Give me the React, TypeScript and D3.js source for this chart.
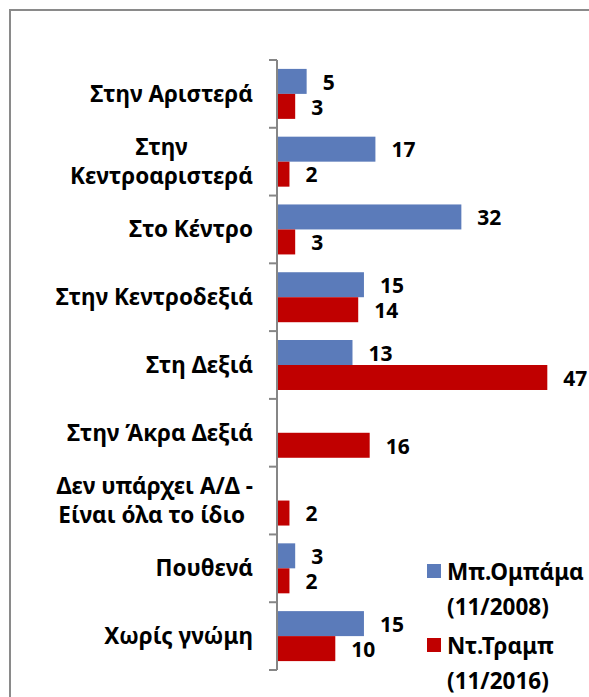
import React, { useEffect, useRef } from "react";
import * as d3 from "d3";

const categories: string[][] = [
  ["Στην Αριστερά"],
  ["Στην", "Κεντροαριστερά"],
  ["Στο Κέντρο"],
  ["Στην Κεντροδεξιά"],
  ["Στη Δεξιά"],
  ["Στην Άκρα Δεξιά"],
  ["Δεν υπάρχει Α/Δ -", "Είναι όλα το ίδιο "],
  ["Πουθενά"],
  ["Χωρίς γνώμη"],
];
const obamaValues: (number | null)[] = [5, 17, 32, 15, 13, null, null, 3, 15];
const trumpValues: (number | null)[] = [3, 2, 3, 14, 47, 16, 2, 2, 10];
const seriesNames = ["Μπ.Ομπάμα (11/2008)", "Ντ.Τραμπ (11/2016)"];
const legendLines: string[][] = [
  ["Μπ.Ομπάμα", "(11/2008)"],
  ["Ντ.Τραμπ", "(11/2016)"],
];
const colors = ["#5B7BBA", "#C00000"];

const W = 589;
const H = 697;
const FONT = "'Noto Sans', sans-serif";
const FS = 22.5;
const FS_VAL = 21;

export default function App() {
  const ref = useRef<SVGSVGElement | null>(null);

  useEffect(() => {
    const svg = d3.select(ref.current);
    svg.selectAll("*").remove();

    // frame
    svg
      .append("rect")
      .attr("x", 10)
      .attr("y", 10)
      .attr("width", W + 10)
      .attr("height", H + 10)
      .attr("fill", "none")
      .attr("stroke", "#8a8a8a")
      .attr("stroke-width", 2);

    const keys = categories.map((_, i) => String(i));
    const y = d3.scaleBand<string>().domain(keys).range([60, 670]).padding(0);
    const inner = d3
      .scaleBand<string>()
      .domain(["0", "1"])
      .range([0, y.bandwidth()])
      .paddingInner(0)
      .paddingOuter(0.356);
    const x = d3.scaleLinear().domain([0, 50]).range([278, 278 + 50 * 5.73]);

    const series = [obamaValues, trumpValues];

    // bars
    series.forEach((vals, s) => {
      const g = svg.append("g");
      vals.forEach((v, i) => {
        if (v == null) return;
        const y0 = (y(String(i)) as number) + (inner(String(s)) as number);
        g.append("rect")
          .attr("x", x(0))
          .attr("y", y0)
          .attr("width", x(v) - x(0))
          .attr("height", inner.bandwidth())
          .attr("fill", colors[s]);
      });
    });

    // value labels
    series.forEach((vals, s) => {
      vals.forEach((v, i) => {
        if (v == null) return;
        const cy = (y(String(i)) as number) + (inner(String(s)) as number) + inner.bandwidth() / 2;
        const t = svg
          .append("text")
          .attr("x", x(v) + 16)
          .attr("y", cy + 8.3)
          .attr("font-family", FONT)
          .attr("font-weight", "bold")
          .attr("font-size", FS_VAL)
          .attr("fill", "#000")
          .text(String(v));
        const node = t.node() as SVGTextElement;
        const w = node.getComputedTextLength();
        if (x(v) + 16 + w > W - 1) t.attr("x", W - 1 - w);
      });
    });

    // axis
    const axisX = 277;
    svg
      .append("line")
      .attr("x1", axisX)
      .attr("x2", axisX)
      .attr("y1", 60)
      .attr("y2", 670)
      .attr("stroke", "#868686")
      .attr("stroke-width", 2);
    const tickYs = keys.map((k) => y(k) as number).concat([670]);
    tickYs.forEach((ty) => {
      svg
        .append("line")
        .attr("x1", 269)
        .attr("x2", axisX)
        .attr("y1", ty)
        .attr("y2", ty)
        .attr("stroke", "#868686")
        .attr("stroke-width", 2);
    });

    // category labels
    const rightEdge = 253;
    categories.forEach((lines, i) => {
      const cy = (y(String(i)) as number) + y.bandwidth() / 2;
      const texts = lines.map((ln) =>
        svg
          .append("text")
          .attr("font-family", FONT)
          .attr("font-weight", "bold")
          .attr("font-size", FS)
          .attr("fill", "#000")
          .attr("text-anchor", "middle")
          .attr("xml:space", "preserve")
          .style("white-space", "pre")
          .text(ln)
      );
      const widths = texts.map((t) => (t.node() as SVGTextElement).getComputedTextLength());
      const maxW = Math.max(...widths);
      const cx = rightEdge - maxW / 2;
      const lh = 29;
      const firstBase = cy + 8 - ((lines.length - 1) * lh) / 2;
      texts.forEach((t, j) => {
        t.attr("x", cx).attr("y", firstBase + j * lh);
      });
    });

    // legend
    const legendY = [564, 638];
    seriesNames.forEach((_, s) => {
      svg
        .append("rect")
        .attr("x", 427)
        .attr("y", legendY[s])
        .attr("width", 14)
        .attr("height", 14)
        .attr("fill", colors[s]);
      legendLines[s].forEach((ln, j) => {
        svg
          .append("text")
          .attr("x", 447)
          .attr("y", legendY[s] + 16 + j * 35)
          .attr("font-family", FONT)
          .attr("font-weight", "bold")
          .attr("font-size", FS)
          .attr("fill", "#000")
          .text(ln);
      });
    });
  }, []);

  return (
    <svg
      ref={ref}
      width={W}
      height={H}
      style={{ position: "absolute", left: 0, top: 0, background: "#fff", display: "block" }}
    />
  );
}
